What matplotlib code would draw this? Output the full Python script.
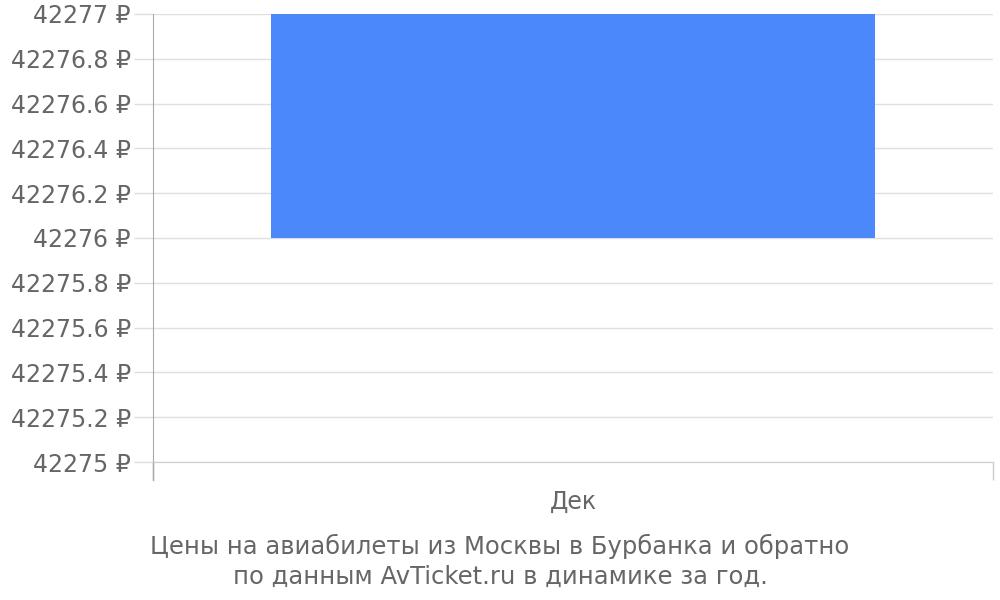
import matplotlib
matplotlib.use('Agg')
from matplotlib import pyplot as plt
from matplotlib.ticker import FuncFormatter

# Данные графика
месяцы = ['Дек']
цена_мин = [42276]
цена_макс = [42277]
деления_y = [42275, 42275.2, 42275.4, 42275.6, 42275.8, 42276,
             42276.2, 42276.4, 42276.6, 42276.8, 42277]
подпись = 'Цены на авиабилеты из Москвы в Бурбанка и обратно\nпо данным AvTicket.ru в динамике за год.'

серый = '#666666'

fig = plt.figure(figsize=(10, 6), dpi=100)
ax = fig.add_axes([0.153, 0.23, 0.84, 0.7467])

# Столбец от минимума до максимума
высоты = [b - a for a, b in zip(цена_мин, цена_макс)]
ax.bar(range(len(месяцы)), высоты, bottom=цена_мин, width=0.72,
       color='#4b89fa', zorder=2)

ax.set_xlim(-0.5, len(месяцы) - 0.5)
ax.set_ylim(деления_y[0], деления_y[-1])

# Ось Y
ax.set_yticks(деления_y)
ax.yaxis.set_major_formatter(FuncFormatter(lambda v, p: f'{v:g} ₽'))
ax.tick_params(axis='y', length=14, width=1, color='#dddddd', pad=2,
               labelsize=17, labelcolor=серый)
ax.grid(axis='y', color='#e0e0e0', linewidth=1, zorder=0)

# Ось X: границы категорий и подписи
ax.set_xticks([i - 0.5 for i in range(len(месяцы) + 1)])
ax.set_xticklabels([])
ax.tick_params(axis='x', which='major', length=13, width=1, color='#cccccc')
ax.set_xticks(range(len(месяцы)), minor=True)
ax.set_xticklabels(месяцы, minor=True)
ax.tick_params(axis='x', which='minor', length=0, pad=20,
               labelsize=17, labelcolor=серый)

for s in ['top', 'right']:
    ax.spines[s].set_visible(False)
ax.spines['left'].set_color('#aaaaaa')
ax.spines['bottom'].set_color('#cccccc')
ax.spines['left'].set_bounds(деления_y[0], деления_y[-1])

# Левая ось продолжается вниз, как у делений X
ax.plot([-0.5, -0.5], [0, -0.04], transform=ax.get_xaxis_transform(),
        color='#aaaaaa', linewidth=1, clip_on=False)

fig.text(0.5, 0.018, подпись, ha='center', va='bottom', fontsize=17.5,
         color=серый, linespacing=1.33)

fig.savefig('out.png', dpi=100)
